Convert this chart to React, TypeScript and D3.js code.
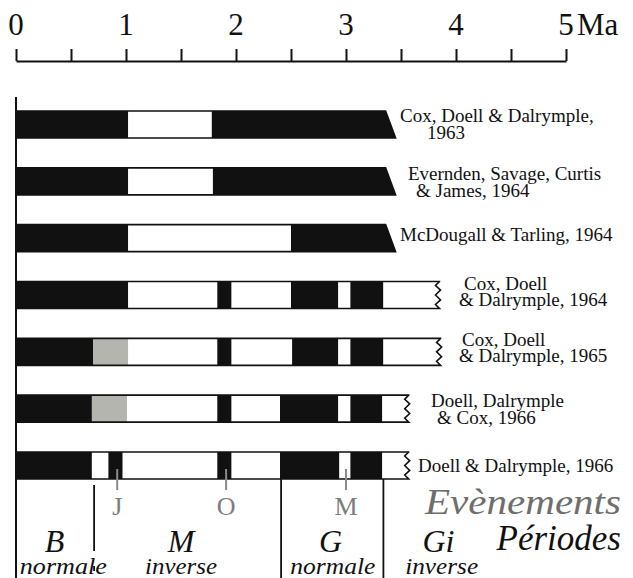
import React, { useRef, useEffect } from 'react';
import * as d3 from 'd3';

// segment = [start in Ma, polarity]  N normal, R reverse, U uncertain
type Seg = [number, string];

const axisTicks = [0, 0.5, 1, 1.5, 2, 2.5, 3, 3.5, 4, 4.5, 5];
const axisLabels = [0, 1, 2, 3, 4, 5];

const refs = ['cdd63', 'esc64', 'mt64', 'cdd64', 'cdd65', 'ddc66', 'dd66'];
const refLabels = [
  ['Cox, Doell & Dalrymple,', '1963'],
  ['Evernden, Savage, Curtis', '& James, 1964'],
  ['McDougall & Tarling, 1964'],
  ['Cox, Doell', '& Dalrymple, 1964'],
  ['Cox, Doell', '& Dalrymple, 1965'],
  ['Doell, Dalrymple', '& Cox, 1966'],
  ['Doell & Dalrymple, 1966'],
];

const cdd63: Seg[] = [[0, 'N'], [1.02, 'R'], [1.78, 'N']];
const esc64: Seg[] = [[0, 'N'], [1.02, 'R'], [1.79, 'N']];
const mt64: Seg[] = [[0, 'N'], [1.02, 'R'], [2.5, 'N']];
const cdd64: Seg[] = [[0, 'N'], [1.02, 'R'], [1.83, 'N'], [1.96, 'R'], [2.5, 'N'], [2.93, 'R'], [3.04, 'N'], [3.34, 'R']];
const cdd65: Seg[] = [[0, 'N'], [0.7, 'U'], [1.02, 'R'], [1.83, 'N'], [1.96, 'R'], [2.51, 'N'], [2.93, 'R'], [3.04, 'N'], [3.34, 'R']];
const ddc66: Seg[] = [[0, 'N'], [0.69, 'U'], [1.01, 'R'], [1.83, 'N'], [1.96, 'R'], [2.4, 'N'], [2.93, 'R'], [3.04, 'N'], [3.33, 'R']];
const dd66: Seg[] = [[0, 'N'], [0.69, 'R'], [0.84, 'N'], [0.97, 'R'], [1.83, 'N'], [1.96, 'R'], [2.4, 'N'], [2.94, 'R'], [3.04, 'N'], [3.33, 'R']];
const rows = [cdd63, esc64, mt64, cdd64, cdd65, ddc66, dd66];

const rowEnds = [3.36, 3.36, 3.36, 3.85, 3.86, 3.57, 3.57];
const rowEndType = ['cut', 'cut', 'cut', 'open', 'open', 'open', 'open'];

const eventNames = ['J', 'O', 'M'];
const eventAges = [0.92, 1.91, 3.0];

const periodNames = ['B', 'M', 'G', 'Gi'];
const periodPolarity = ['normale', 'inverse', 'normale', 'inverse'];
const periodBounds = [0.71, 2.41, 3.34];

// layout only
const labelX = [[400, 427], [408, 416], [400], [464, 459], [462, 459], [431, 437], [418]];
const labelDy = [[-2, 15], [-1, 16], [3], [-5, 11], [-6, 10], [-2, 15], [6]];
const periodLetterAt = [0.35, 1.5, 2.86, 3.84];
const periodWordAt = [0.43, 1.5, 2.88, 3.87];
const periodWordLen = [87, 72, 85, 73];

const fills: Record<string, string> = { N: '#111', R: '#fff', U: '#b5b5b0' };
const font = "'Liberation Serif', 'DejaVu Serif', serif";

const App: React.FC = () => {
  const gx = useRef<SVGGElement | null>(null);
  const width = 633;
  const height = 578;

  const x = d3.scaleLinear().domain([0, 5]).range([16, 566]);
  const y = d3.scaleBand().domain(refs).range([111, 479]).paddingInner(0.525).paddingOuter(0);
  const bh = y.bandwidth();

  useEffect(() => {
    if (!gx.current) return;
    const axis = d3
      .axisTop(x)
      .tickValues(axisTicks)
      .tickSize(12)
      .tickSizeOuter(0)
      .tickFormat(() => '');
    const g = d3.select(gx.current);
    g.call(axis);
    g.selectAll('path,line').attr('stroke', '#111').attr('stroke-width', 2);
  }, []);

  const zig = (xe: number, top: number) => {
    const pts: [number, number][] = [
      [xe, top],
      [xe - 4, top + bh * 0.15],
      [xe + 1, top + bh * 0.32],
      [xe - 4, top + bh * 0.5],
      [xe + 1, top + bh * 0.68],
      [xe - 4, top + bh * 0.85],
      [xe, top + bh],
    ];
    return d3.line()(pts) as string;
  };

  return (
    <svg width={width} height={height} style={{ position: 'absolute', left: 0, top: 0, background: '#fff' }} fontFamily={font}>
      {/* top scale */}
      <g ref={gx} transform="translate(0,61)"></g>
      {axisLabels.map((d) => (
        <text key={d} x={x(d)} y={35} fontSize={31} textAnchor="middle" fill="#111">
          {d}
        </text>
      ))}
      <text x={x(5) + 11} y={35} fontSize={31} fill="#111">Ma</text>

      {/* bars */}
      {rows.map((segs, i) => {
        const top = y(refs[i]) as number;
        const bot = top + bh;
        const end = x(rowEnds[i]);
        const cut = rowEndType[i] === 'cut';
        const endBot = cut ? end + 10 : end;
        let outline = `M${x(0)},${top}H${end}`;
        outline += cut ? `L${endBot},${bot}` : zig(end, top).replace(/^M/, 'L');
        outline += `H${x(0)}`;
        return (
          <g key={refs[i]}>
            {segs.map((s, j) => {
              const x0 = x(s[0]);
              const last = j === segs.length - 1;
              if (!last) {
                const x1 = x(segs[j + 1][0]);
                return <rect key={j} x={x0} y={top} width={x1 - x0} height={bh} fill={fills[s[1]]} />;
              }
              const d = cut
                ? `M${x0},${top}H${end}L${endBot},${bot}H${x0}Z`
                : `M${x0},${top}H${end}${zig(end, top).replace(/^M/, 'L')}H${x0}Z`;
              return <path key={j} d={d} fill={fills[s[1]]} />;
            })}
            <path d={outline} fill="none" stroke="#111" strokeWidth={1.6} />
            {refLabels[i].map((line, k) => (
              <text key={k} x={labelX[i][k]} y={top + bh / 2 + labelDy[i][k]} fontSize={19} fill="#111">
                {line}
              </text>
            ))}
          </g>
        );
      })}

      {/* left edge */}
      <line x1={x(0)} x2={x(0)} y1={97} y2={height} stroke="#111" strokeWidth={2} />

      {/* period boundaries */}
      <line x1={x(periodBounds[0])} x2={x(periodBounds[0])} y1={485} y2={551} stroke="#111" strokeWidth={1.8} />
      <line x1={x(periodBounds[0])} x2={x(periodBounds[0])} y1={566} y2={571} stroke="#111" strokeWidth={1.8} />
      {periodBounds.slice(1).map((b) => (
        <line key={b} x1={x(b)} x2={x(b)} y1={479} y2={height} stroke="#111" strokeWidth={1.8} />
      ))}

      {/* events */}
      {eventAges.map((a, i) => (
        <g key={eventNames[i]}>
          <line x1={x(a)} x2={x(a)} y1={469} y2={490} stroke="#8a8a8a" strokeWidth={2} />
          <text x={x(a)} y={515} fontSize={26} textAnchor="middle" fill="#7d7d7d">
            {eventNames[i]}
          </text>
        </g>
      ))}
      <text x={621} y={514} fontSize={35} fontStyle="italic" textAnchor="end" fill="#6e6e6e" textLength={196} lengthAdjust="spacingAndGlyphs">
        Evènements
      </text>

      {/* periods */}
      {periodNames.map((p, i) => (
        <g key={p}>
          <text x={x(periodLetterAt[i])} y={552} fontSize={32} fontStyle="italic" textAnchor="middle" fill="#111">
            {p}
          </text>
          <text
            x={x(periodWordAt[i])}
            y={574}
            fontSize={24}
            fontStyle="italic"
            textAnchor="middle"
            fill="#111"
            textLength={periodWordLen[i]}
            lengthAdjust="spacingAndGlyphs"
          >
            {periodPolarity[i]}
          </text>
        </g>
      ))}
      <text x={621} y={550} fontSize={35} fontStyle="italic" textAnchor="end" fill="#111">
        Périodes
      </text>
    </svg>
  );
};

export default App;
